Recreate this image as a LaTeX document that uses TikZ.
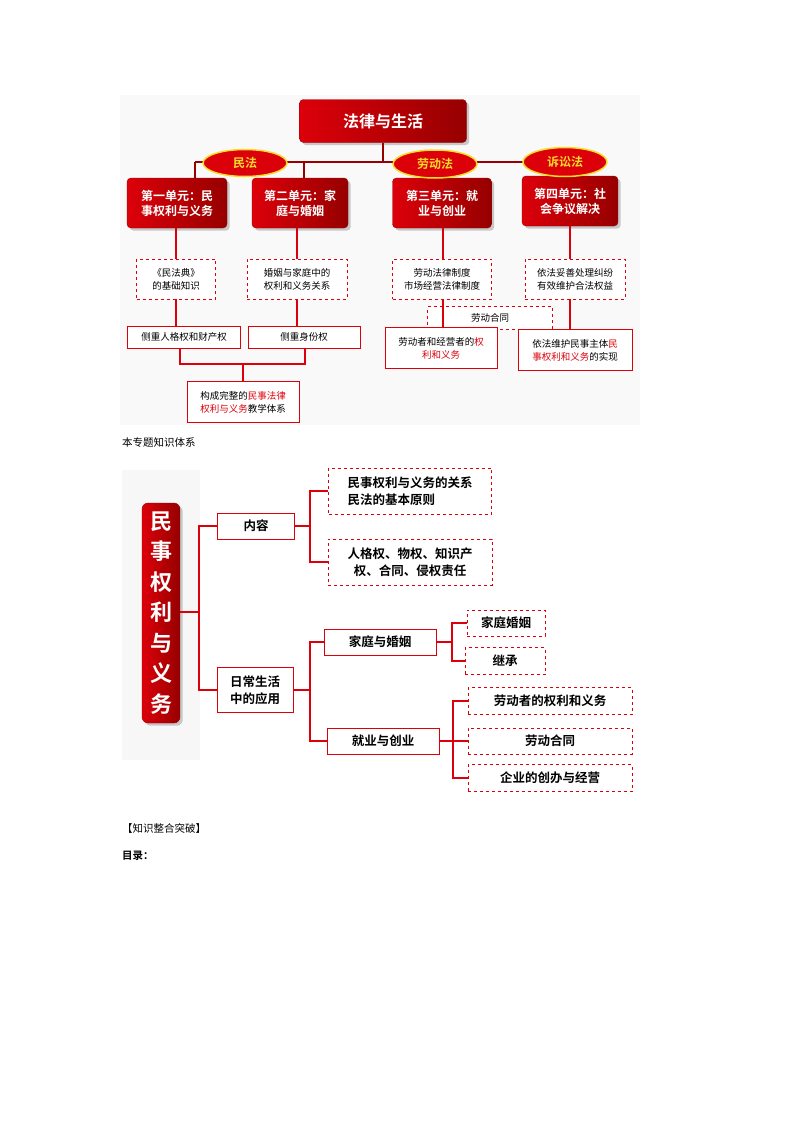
\documentclass[tikz,border=0pt]{standalone}
\usepackage{fontspec}
\setmainfont{Noto Sans CJK SC}
\newfontfamily\cjkb{Noto Sans CJK SC Bold}
\usetikzlibrary{shadows,shapes.geometric}
\definecolor{rd}{RGB}{220,0,10}
\definecolor{drd}{RGB}{150,0,0}
\definecolor{yl}{RGB}{250,220,40}
\begin{document}
\begin{tikzpicture}[x=1pt,y=-1pt,
 unitbox/.style={draw=drd,rounded corners=4pt,left color=rd,right color=drd,drop shadow={opacity=0.4},text=white,font=\cjkb\fontsize{12}{15}\selectfont,align=center,inner sep=0pt},
 lawell/.style={ellipse,draw=yl,line width=1.5pt,fill=rd,text=yl,font=\cjkb\fontsize{12}{14}\selectfont,inner sep=0pt},
 dbox/.style={draw=rd,dashed,line width=0.6pt,fill=white,align=center,inner sep=0pt,font=\fontsize{9.5}{13}\selectfont},
 sbox/.style={draw=rd,line width=0.8pt,fill=white,align=center,inner sep=0pt,font=\fontsize{9.5}{13}\selectfont},
 dbox2/.style={dbox,font=\cjkb\fontsize{12.5}{17}\selectfont},
 sbox2/.style={sbox,font=\cjkb\fontsize{12.5}{17}\selectfont},
 ln/.style={draw=rd,line width=1.4pt},
 ln2/.style={draw=rd,line width=2.2pt}]
\useasboundingbox[fill=white] (0,0) rectangle (800,1132);
\fill[gray!5] (120,95) rectangle (640,425);
% top chart
\node[unitbox,minimum width=167,minimum height=43,font=\cjkb\fontsize{16}{18}\selectfont] (title) at (383,121) {法律与生活};
\node[unitbox,minimum width=100,minimum height=50] (u1) at (177,203) {第一单元：民\\事权利与义务};
\node[unitbox,minimum width=96,minimum height=50] (u2) at (300,203) {第二单元：家\\庭与婚姻};
\node[unitbox,minimum width=99,minimum height=50] (u3) at (442,203) {第三单元：就\\业与创业};
\node[unitbox,minimum width=96,minimum height=50] (u4) at (570,201) {第四单元：社\\会争议解决};
\coordinate (hl) at (195,162); \coordinate (hr) at (523,162);
\draw[ln,draw=drd] (title.south) -- (383,162);
\draw[ln,draw=drd] (hl) -- (hr);
\draw[ln,draw=drd] (hl) -- (195,178);
\draw[ln,draw=drd] (304,162) -- (304,178);
\node[lawell,minimum width=84,minimum height=27] (m1) at (245,163) {民法};
\node[lawell,minimum width=84,minimum height=28] (m2) at (435,164) {劳动法};
\node[lawell,minimum width=84,minimum height=29] (m3) at (565,162) {诉讼法};
\node[dbox,minimum width=79,minimum height=40] (d1) at (176,279) {《民法典》\\的基础知识};
\node[dbox,minimum width=100,minimum height=40] (d2) at (297,279) {婚姻与家庭中的\\权利和义务关系};
\node[dbox,minimum width=99,minimum height=40] (d3) at (442,279) {劳动法律制度\\市场经营法律制度};
\node[dbox,minimum width=100,minimum height=40] (d4) at (575,279) {依法妥善处理纠纷\\有效维护合法权益};
\draw[ln] (176,228) -- (d1.north);
\draw[ln] (297,228) -- (d2.north);
\draw[ln] (443,228) -- (443,259);
\draw[ln] (570,226) -- (570,259);
\node[sbox,minimum width=113,minimum height=22] (s1) at (184,337) {侧重人格权和财产权};
\node[sbox,minimum width=112,minimum height=22] (s2) at (304,337) {侧重身份权};
\draw[ln] (176,299) -- (176,326);
\draw[ln] (297,299) -- (297,326);
\node[sbox,minimum width=112,minimum height=41] (c) at (243,402) {构成完整的\textcolor{rd}{民事法律}\\\textcolor{rd}{权利与义务}教学体系};
\draw[ln] (180,348) -- (180,364) -- (305,364) -- (305,348);
\draw[ln] (243,364) -- (c.north);
\node[dbox,minimum width=125,minimum height=23] (lc) at (490,318) {劳动合同};
\node[sbox,minimum width=112,minimum height=41] (s3) at (441,348) {劳动者和经营者的\textcolor{rd}{权}\\\textcolor{rd}{利和义务}};
\draw[ln] (443,299) -- (443,328);
\node[sbox,minimum width=114,minimum height=41] (s4) at (575,350) {依法维护民事主体\textcolor{rd}{民}\\\textcolor{rd}{事权利和义务}的实现};
\draw[ln] (570,299) -- (570,330);
% texts
\node[anchor=west,inner sep=0pt,font=\fontsize{10.5}{12}\selectfont] (t1) at (122,442) {本专题知识体系};
\node[anchor=west,inner sep=0pt,font=\fontsize{10.5}{12}\selectfont] (t2) at (122,828) {【知识整合突破】};
\node[anchor=west,inner sep=0pt,font=\cjkb\fontsize{10.5}{12}\selectfont] (t3) at (122,856) {目录：};
% bottom chart
\fill[gray!6] (122,470) rectangle (200,760);
\node[unitbox,rounded corners=6pt,minimum width=38,minimum height=220,font=\cjkb\fontsize{22}{30.5}\selectfont] (big) at (161,613) {民\\事\\权\\利\\与\\义\\务};
\node[sbox2,minimum width=77,minimum height=26] (nr) at (256,526) {内容};
\node[sbox2,minimum width=76,minimum height=45] (rc) at (255,690) {日常生活\\中的应用};
\draw[ln2] (big.east|-0,612) -- (199,612);
\draw[ln2] (nr.west) -| (199,690) -- (rc.west);
\node[dbox2,minimum width=163,minimum height=46,align=left] (a1) at (410,491) {民事权利与义务的关系\\民法的基本原则};
\node[dbox2,minimum width=164,minimum height=46] (a2) at (410,562) {人格权、物权、知识产\\权、合同、侵权责任};
\draw[ln2] (nr.east) -- (310,526);
\draw[ln2] (a1.west) -| (310,562) -- (a2.west);
\node[sbox2,minimum width=112,minimum height=26] (jt) at (380,642) {家庭与婚姻};
\node[sbox2,minimum width=112,minimum height=26] (jy) at (383,741) {就业与创业};
\draw[ln2] (rc.east) -- (310,690);
\draw[ln2] (jt.west) -| (310,741) -- (jy.west);
\node[dbox2,minimum width=78,minimum height=26] (b1) at (506,623) {家庭婚姻};
\node[dbox2,minimum width=80,minimum height=27] (b2) at (505,661) {继承};
\draw[ln2] (jt.east) -- (452,642);
\draw[ln2] (b1.west) -| (452,661) -- (b2.west);
\node[dbox2,minimum width=164,minimum height=27] (e1) at (550,701) {劳动者的权利和义务};
\node[dbox2,minimum width=164,minimum height=26] (e2) at (550,741) {劳动合同};
\node[dbox2,minimum width=164,minimum height=27] (e3) at (550,778) {企业的创办与经营};
\draw[ln2] (jy.east) -- (e2.west);
\draw[ln2] (e1.west) -| (453,778) -- (e3.west);
\end{tikzpicture}
\end{document}
